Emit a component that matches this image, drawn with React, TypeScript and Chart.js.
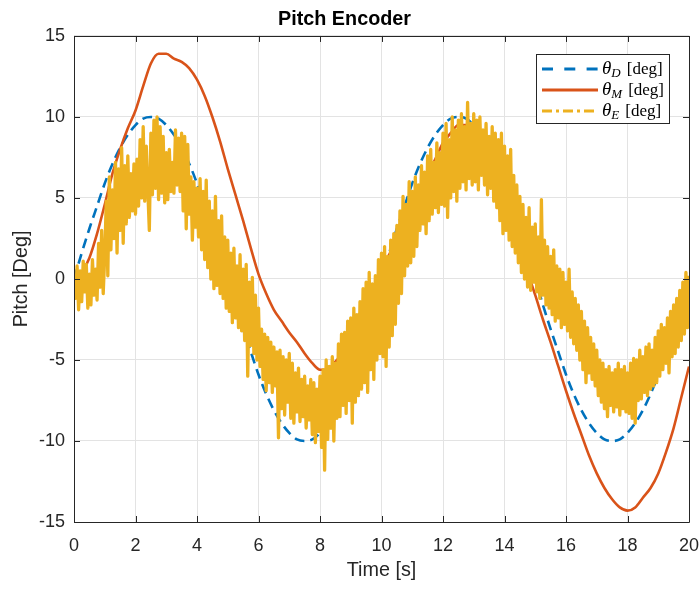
import React, { useEffect, useRef } from 'react';
import { Chart, registerables } from 'chart.js';

Chart.register(...registerables);

// ---------- data ----------
const COARSE_STEP = 0.25; // s, sampling of desired & model series
const FINE_STEP = 0.05; // s, sampling of encoder series

const THETA_D = [
  0, 1.6, 3.1, 4.5, 5.9, 7.1, 8.1, 8.9, 9.5, 9.9, 10, 9.9, 9.5, 8.9, 8.1, 7.1, 5.9, 4.5, 3.1, 1.6,
  0, -1.6, -3.1, -4.5, -5.9, -7.1, -8.1, -8.9, -9.5, -9.9, -10, -9.9, -9.5, -8.9, -8.1, -7.1, -5.9, -4.5, -3.1, -1.6,
  0, 1.6, 3.1, 4.5, 5.9, 7.1, 8.1, 8.9, 9.5, 9.9, 10, 9.9, 9.5, 8.9, 8.1, 7.1, 5.9, 4.5, 3.1, 1.6,
  0, -1.6, -3.1, -4.5, -5.9, -7.1, -8.1, -8.9, -9.5, -9.9, -10, -9.9, -9.5, -8.9, -8.1, -7.1, -5.9, -4.5, -3.1, -1.6,
  0,
];

const THETA_M = [
  0, 0.4, 1.3, 2.8, 4.6, 6.5, 8.0, 9.3, 10.4, 11.9, 13.3, 13.9, 13.9, 13.6, 13.4, 13.0, 12.3, 11.3, 10.0, 8.5,
  6.8, 5.2, 3.6, 1.9, 0.3, -0.9, -1.9, -2.6, -3.3, -3.9, -4.6, -5.2, -5.6, -5.6, -5.1, -4.6, -3.9, -2.8, -1.6, -0.6,
  0.6, 1.5, 2.5, 3.5, 4.5, 5.5, 6.5, 7.4, 8.4, 9.0, 9.5, 9.5, 9.1, 8.3, 7.2, 6.0, 4.6, 3.2, 1.8, 0.4,
  -1.0, -2.5, -3.9, -5.4, -6.9, -8.3, -9.6, -10.9, -12.0, -12.9, -13.6, -14.1, -14.3, -14.1, -13.5, -12.9, -12.0, -10.7, -9.2, -7.3,
  -5.4,
];

const THETA_E = [
  0.0, -1.2, 0.8, -1.9, 0.5, -1.4, 1.1, -0.8, 0.9, -1.8, 0.3, -1.6, 1.2, -1.0, 0.6, -1.3, 2.2, -0.5, 3.0, -0.9,
  1.5, 4.8, 0.2, 6.3, 1.8, 5.5, 2.5, 7.2, 1.6, 6.8, 3.0, 8.1, 2.2, 7.0, 3.4, 7.6, 3.8, 6.5, 4.2, 7.1,
  4.0, 7.4, 4.5, 8.6, 5.0, 9.4, 4.8, 8.2, 5.5, 3.0, 9.0, 5.2, 9.8, 5.6, 10.0, 4.9, 9.4, 5.3, 8.8, 4.7,
  7.8, 4.9, 8.0, 5.4, 7.2, 5.3, 9.2, 5.8, 8.7, 5.4, 9.0, 4.2, 8.8, 3.1, 8.3, 4.0, 6.3, 2.4, 6.0, 3.2,
  5.6, 2.6, 6.2, 1.8, 5.4, 1.2, 6.1, 0.7, 4.8, 0.0, 4.2, -0.6, 5.1, -0.4, 3.6, -0.9, 3.9, -1.2, 2.6, -1.8,
  2.4, -2.0, 1.6, -2.7, 1.9, -2.4, 0.8, -3.0, 1.5, -3.2, 0.6, -3.8, 0.9, -6.0, -0.2, -4.1, 0.1, -4.6, -1.0, -5.0,
  -1.8, -5.4, -3.1, -6.2, -3.4, -6.9, -3.6, -6.4, -3.9, -7.0, -4.2, -6.6, -4.5, -9.8, -4.4, -8.0, -4.8, -8.4, -5.0, -7.6,
  -4.6, -8.6, -5.2, -8.9, -5.8, -8.2, -5.5, -8.8, -6.2, -8.5, -6.0, -9.2, -6.6, -8.7, -6.2, -9.6, -6.4, -10.1, -6.8, -9.4,
  -6.0, -10.4, -5.6, -11.8, -5.0, -9.9, -5.4, -9.2, -4.8, -10.0, -5.2, -8.6, -4.0, -8.5, -3.4, -7.8, -3.3, -8.3, -2.6, -7.5,
  -2.4, -8.9, -1.8, -7.6, -2.2, -7.2, -1.4, -6.8, -0.6, -6.4, -0.2, -7.0, 0.4, -5.6, -0.3, -6.2, 0.2, -5.0, 1.2, -4.6,
  1.6, -4.8, 2.0, -5.4, 1.4, -4.2, 2.4, -3.5, 2.8, -2.8, 3.3, -1.5, 4.2, -0.9, 5.1, 0.2, 4.6, 0.8, 6.0, 1.0,
  5.4, 1.4, 6.3, 2.0, 5.8, 3.0, 7.0, 3.4, 6.6, 2.8, 7.6, 3.6, 8.0, 4.0, 7.2, 4.4, 8.4, 4.1, 7.8, 4.6,
  9.0, 4.5, 9.6, 3.8, 8.6, 5.0, 10.0, 5.4, 9.2, 4.8, 9.8, 5.6, 10.2, 6.0, 9.4, 5.5, 10.9, 6.2, 9.6, 5.8,
  10.2, 6.0, 9.8, 5.5, 10.0, 6.4, 9.2, 5.8, 9.6, 5.2, 8.8, 5.6, 9.4, 4.8, 9.0, 4.4, 8.6, 3.6, 9.0, 2.8,
  8.2, 3.0, 7.6, 2.4, 8.0, 2.0, 6.4, 1.6, 5.8, 1.0, 5.1, 0.4, 4.6, 0.0, 3.8, -0.5, 4.4, -0.7, 3.2, -0.2,
  3.4, -0.8, 2.6, -1.2, 4.9, -1.0, 2.4, -1.6, 2.0, -1.8, 1.4, -2.2, 1.8, -2.6, 0.8, -2.4, 0.6, -3.0, 0.4, -2.8,
  -0.2, -3.2, 0.6, -3.6, -0.8, -4.0, -1.2, -4.4, -1.6, -5.0, -2.0, -5.6, -2.6, -6.4, -3.0, -5.8, -3.6, -6.2, -4.0, -6.6,
  -4.4, -7.2, -5.0, -7.6, -5.2, -8.0, -5.6, -8.5, -5.4, -7.8, -5.8, -8.2, -5.6, -7.9, -5.2, -8.4, -5.6, -8.0, -5.4, -8.2,
  -5.8, -8.3, -5.2, -8.6, -4.9, -8.9, -5.0, -7.5, -4.4, -7.4, -4.8, -7.0, -4.2, -7.2, -4.0, -6.8, -4.4, -6.6, -3.6, -6.4,
  -3.2, -6.0, -2.8, -5.6, -3.0, -5.2, -2.4, -5.8, -2.0, -4.8, -1.6, -4.6, -1.2, -4.2, -0.7, -3.8, -0.2, -3.4, 0.4, -3.0,
  0.2,
];

const X_TICKS = [0, 2, 4, 6, 8, 10, 12, 14, 16, 18, 20];
const Y_TICKS = [-15, -10, -5, 0, 5, 10, 15];
const SERIES_LABELS = ['D', 'M', 'E'];
const TITLE = 'Pitch Encoder';
const X_LABEL = 'Time [s]';
const Y_LABEL = 'Pitch [Deg]';

// ---------- styles ----------
const SANS = '"Liberation Sans", Arial, Helvetica, sans-serif';
const SERIF = '"Liberation Serif", "Times New Roman", serif';
const AXIS_COLOR = '#262626';
const GRID_COLOR = '#e3e3e3';
const COLORS = ['#0072BD', '#D95319', '#EDB120'];
const DATA_DASH = [[10, 6], [], []];
const LEGEND_DASH = [[11, 11.3], [], [10, 4, 3, 4]];

const toPoints = (vals: number[], step: number) => vals.map((v, i) => ({ x: i * step, y: v }));

const framePlugin = {
  id: 'matlabFrame',
  afterDatasetsDraw(chart: any) {
    const { ctx, chartArea } = chart;
    const { left, right, top, bottom } = chartArea;
    const xs = chart.scales.x;
    const ys = chart.scales.y;
    ctx.save();
    ctx.strokeStyle = AXIS_COLOR;
    ctx.lineWidth = 1;
    ctx.setLineDash([]);
    ctx.beginPath();
    ctx.rect(Math.round(left) + 0.5, Math.round(top) + 0.5, Math.round(right - left), Math.round(bottom - top));
    const tl = 6;
    X_TICKS.forEach((v) => {
      const px = Math.round(xs.getPixelForValue(v)) + 0.5;
      ctx.moveTo(px, bottom);
      ctx.lineTo(px, bottom - tl);
      ctx.moveTo(px, top);
      ctx.lineTo(px, top + tl);
    });
    Y_TICKS.forEach((v) => {
      const py = Math.round(ys.getPixelForValue(v)) + 0.5;
      ctx.moveTo(left, py);
      ctx.lineTo(left + tl, py);
      ctx.moveTo(right, py);
      ctx.lineTo(right - tl, py);
    });
    ctx.stroke();
    ctx.restore();
  },
  afterDraw(chart: any) {
    const { ctx, chartArea } = chart;
    const w = 133;
    const h = 69;
    const x0 = Math.round(chartArea.right - 20 - w);
    const y0 = Math.round(chartArea.top + 18);
    ctx.save();
    ctx.fillStyle = '#ffffff';
    ctx.fillRect(x0, y0, w, h);
    ctx.strokeStyle = AXIS_COLOR;
    ctx.lineWidth = 1;
    ctx.setLineDash([]);
    ctx.strokeRect(x0 + 0.5, y0 + 0.5, w, h);
    SERIES_LABELS.forEach((sub, i) => {
      const cy = y0 + 15 + i * 21;
      ctx.beginPath();
      ctx.setLineDash(LEGEND_DASH[i]);
      ctx.strokeStyle = COLORS[i];
      ctx.lineWidth = 3;
      ctx.moveTo(x0 + 6, cy);
      ctx.lineTo(x0 + 62, cy);
      ctx.stroke();
      ctx.setLineDash([]);
      ctx.fillStyle = '#000000';
      ctx.textBaseline = 'alphabetic';
      ctx.textAlign = 'left';
      const base = cy + 5;
      let tx = x0 + 66;
      ctx.font = `italic 19px ${SERIF}`;
      ctx.fillText('θ', tx, base);
      tx += ctx.measureText('θ').width;
      ctx.font = `italic 13px ${SERIF}`;
      ctx.fillText(sub, tx, base + 3);
      tx += ctx.measureText(sub).width + 6;
      ctx.font = `17px ${SERIF}`;
      ctx.fillText('[deg]', tx, base);
    });
    ctx.restore();
  },
};

export default function App() {
  const canvasRef = useRef<HTMLCanvasElement | null>(null);

  useEffect(() => {
    document.body.style.margin = '0';
    const canvas = canvasRef.current;
    if (!canvas) return;
    const chart = new Chart(canvas, {
      type: 'line',
      data: {
        datasets: [
          {
            label: 'θD [deg]',
            data: toPoints(THETA_D, COARSE_STEP),
            borderColor: COLORS[0],
            borderWidth: 2.6,
            borderDash: DATA_DASH[0],
            pointRadius: 0,
            cubicInterpolationMode: 'monotone',
            order: 3,
          },
          {
            label: 'θM [deg]',
            data: toPoints(THETA_M, COARSE_STEP),
            borderColor: COLORS[1],
            borderWidth: 2.6,
            pointRadius: 0,
            cubicInterpolationMode: 'monotone',
            order: 2,
          },
          {
            label: 'θE [deg]',
            data: toPoints(THETA_E, FINE_STEP),
            borderColor: COLORS[2],
            borderWidth: 3.3,
            borderDash: DATA_DASH[2],
            borderJoinStyle: 'round',
            pointRadius: 0,
            tension: 0,
            order: 1,
          },
        ],
      },
      options: {
        responsive: false,
        animation: false,
        devicePixelRatio: 1,
        layout: { padding: { left: 0, right: 10, top: 0, bottom: 0 } },
        plugins: {
          legend: { display: false },
          tooltip: { enabled: false },
          title: {
            display: true,
            text: TITLE,
            color: '#000000',
            font: { family: SANS, size: 19.8, weight: 'bold' },
            padding: { top: 7.6, bottom: 4.6 },
          },
        },
        scales: {
          x: {
            type: 'linear',
            min: 0,
            max: 20,
            afterBuildTicks: (s: any) => {
              s.ticks = X_TICKS.map((v) => ({ value: v }));
            },
            afterFit: (s: any) => {
              s.height = 67;
              s.paddingLeft = 0;
              s.paddingRight = 0;
            },
            ticks: {
              color: AXIS_COLOR,
              font: { family: SANS, size: 18 },
              padding: 13,
              maxRotation: 0,
              callback: (v: any) => String(v),
            },
            grid: { color: GRID_COLOR, drawTicks: false, lineWidth: 1 },
            border: { display: false },
            title: {
              display: true,
              text: X_LABEL,
              color: AXIS_COLOR,
              font: { family: SANS, size: 19.8 },
              padding: { top: 0, bottom: 6.1 },
            },
          },
          y: {
            type: 'linear',
            min: -15,
            max: 15,
            afterBuildTicks: (s: any) => {
              s.ticks = Y_TICKS.map((v) => ({ value: v }));
            },
            afterFit: (s: any) => {
              s.width = 74;
              s.paddingTop = 0;
              s.paddingBottom = 0;
            },
            ticks: {
              color: AXIS_COLOR,
              font: { family: SANS, size: 18 },
              padding: 9,
              callback: (v: any) => String(v),
            },
            grid: { color: GRID_COLOR, drawTicks: false, lineWidth: 1 },
            border: { display: false },
            title: {
              display: true,
              text: Y_LABEL,
              color: AXIS_COLOR,
              font: { family: SANS, size: 19.8 },
              padding: { top: 9.6, bottom: 0 },
            },
          },
        },
      },
      plugins: [framePlugin],
    });
    return () => chart.destroy();
  }, []);

  return (
    <div style={{ width: 699, height: 589, background: '#ffffff' }}>
      <canvas ref={canvasRef} width={699} height={589} style={{ display: 'block' }} />
    </div>
  );
}
